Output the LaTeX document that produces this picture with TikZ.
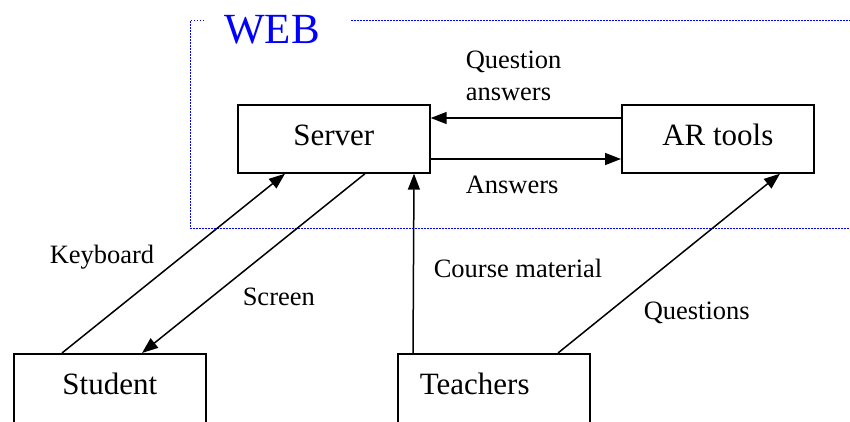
\documentclass[tikz,border=0pt]{standalone}
\usepackage{fontspec}
\setmainfont{Liberation Serif}
\usetikzlibrary{arrows.meta}
\tikzset{>={Triangle[length=16pt,width=12pt]}}

\begin{document}
\begin{tikzpicture}[x=1pt, y=-1pt, line width=1.5pt,
    box/.style={draw, line width=1.7pt, anchor=north west, minimum width=192pt, minimum height=68pt, inner sep=0pt, text depth=8pt, font=\fontsize{31}{36}\selectfont},
    lowbox/.style={box, minimum height=74pt, text depth=14pt},
    lbl/.style={inner sep=0pt, anchor=base west, font=\fontsize{26.5}{32}\selectfont},
    webline/.style={draw=blue, line width=1pt, dash pattern=on 1.5pt off 1.5pt}]
    \useasboundingbox (0,0) rectangle (850,421);
    \draw [webline] (204,20) -- (190,20) -- (190,228) -- (850,228);
    \draw [webline] (351,20) -- (850,20);
    \node [inner sep=0pt, anchor=base, text=blue, font=\fontsize{43}{48}\selectfont] (web) at (272,43) {WEB};
    \node [box] (server) at (237,104) {Server};
    \node [box] (artools) at (621,104) {AR tools};
    \node [lowbox] (student) at (13,353) {Student};
    \node [lowbox, text width=148pt, inner xsep=22pt, align=left] (teachers) at (397,353) {Teachers};
    \draw [->] ([yshift=-14pt]artools.north west) -- ([yshift=-14pt]server.north east);
    \draw [->] ([yshift=-55pt]server.north east) -- ([yshift=-55pt]artools.north west);
    \draw [->] ([xshift=49pt]student.north west) -- ([xshift=48pt]server.south west);
    \draw [->] ([xshift=128pt]server.south west) -- ([xshift=129pt]student.north west);
    \draw [->] ([xshift=16pt]teachers.north west) -- ([xshift=177pt]server.south west);
    \draw [->] ([xshift=161pt]teachers.north west) -- ([xshift=159pt]artools.south west);
    \node [lbl, anchor=north west, align=left] (qanswers) at (465,50) {Question\\answers};
    \node [lbl] (answers) at (465,193) {Answers};
    \node [lbl] (keyboard) at (49,263) {Keyboard};
    \node [lbl] (screen) at (242,305) {Screen};
    \node [lbl] (course) at (433,277) {Course material};
    \node [lbl] (questions) at (643,319) {Questions};
\end{tikzpicture}
\end{document}
